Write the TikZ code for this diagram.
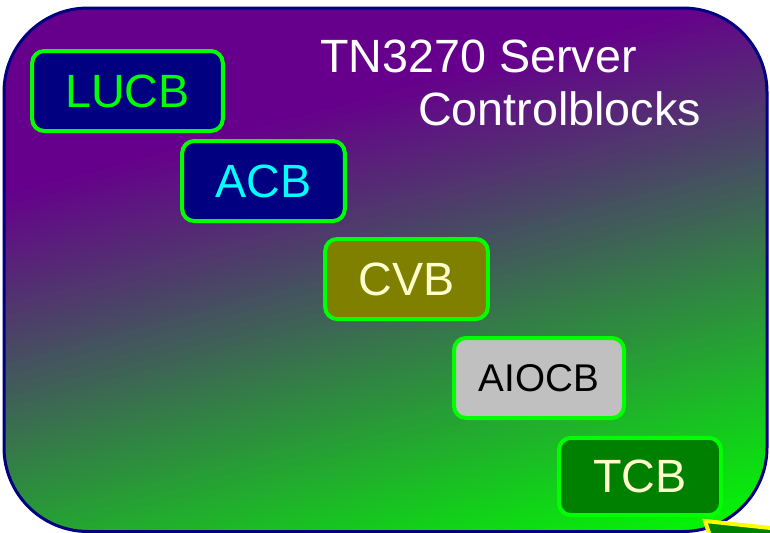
\documentclass[tikz,border=0pt]{standalone}
\usepackage{fontspec}
\setmainfont{Liberation Sans}
\definecolor{cStart}{RGB}{102,0,140}
\definecolor{cEnd}{RGB}{0,255,0}
\definecolor{outerline}{RGB}{0,0,128}
\definecolor{boxline}{RGB}{0,255,0}
\definecolor{navyfill}{RGB}{0,0,128}
\definecolor{olivefill}{RGB}{128,128,0}
\definecolor{silverfill}{RGB}{192,192,192}
\definecolor{greenfill}{RGB}{0,128,0}
\definecolor{paleyellow}{RGB}{255,255,204}
\definecolor{cyantext}{RGB}{0,255,255}
\definecolor{calloutline}{RGB}{255,255,0}
\begin{document}
\begin{tikzpicture}[x=0.75pt,y=-0.75pt,
  cblock/.style={draw=boxline, line width=3pt, rounded corners=9pt,
    minimum height=60pt, inner sep=0pt, font=\fontsize{35}{42}\selectfont},
  titletext/.style={text=white, anchor=base west, inner sep=0pt,
    font=\fontsize{35}{42}\selectfont}]
\useasboundingbox (0,0) rectangle (770,532);
% outer panel with gradient
\begin{scope}
  \clip[rounded corners=63pt] (4,8) rectangle (767,531.5);
  \fill[cStart] (0,0) rectangle (770,540);
  \foreach \i in {0,...,100} {
    \pgfmathsetmacro\ta{185+\i*5.28}
    \pgfmathsetmacro\tb{\ta+6}
    \fill[cEnd!\i!cStart] ({0.258*\ta-290},{0.966*\ta+77}) -- ({0.258*\ta+1063},{0.966*\ta-284})
      -- ({0.258*\tb+1063},{0.966*\tb-284}) -- ({0.258*\tb-290},{0.966*\tb+77}) -- cycle;
  }
\end{scope}
\draw[outerline, line width=2.25pt, rounded corners=63pt] (4,8) rectangle (767,531.5);
% title
\node[titletext] (t1) at (320,72) {TN3270 Server};
\node[titletext] (t2) at (418,125) {Controlblocks};
% control blocks
\node[cblock, fill=navyfill, text=boxline, minimum width=143pt] (lucb) at (127.5,91) {LUCB};
\node[cblock, fill=navyfill, text=cyantext, minimum width=122pt] (acb) at (263.5,181) {ACB};
\node[cblock, fill=olivefill, text=paleyellow, minimum width=122pt] (cvb) at (406.5,279) {CVB};
\node[cblock, fill=silverfill, text=black, minimum width=127.5pt,
  font=\fontsize{29}{35}\selectfont] (aiocb) at (539,378) {AIOCB};
\node[cblock, fill=greenfill, text=paleyellow, minimum width=121.5pt, minimum height=58pt] (tcb) at (640,476.5) {TCB};
% callout edge at bottom right
\coordinate (ca) at (705,521);
\coordinate (cb) at (780,529);
\coordinate (cc) at (780,545);
\coordinate (cd) at (713,545);
\draw[calloutline, line width=3pt, fill=greenfill, line join=miter] (cd) -- (ca) -- (cb) -- (cc) -- cycle;
\end{tikzpicture}
\end{document}
